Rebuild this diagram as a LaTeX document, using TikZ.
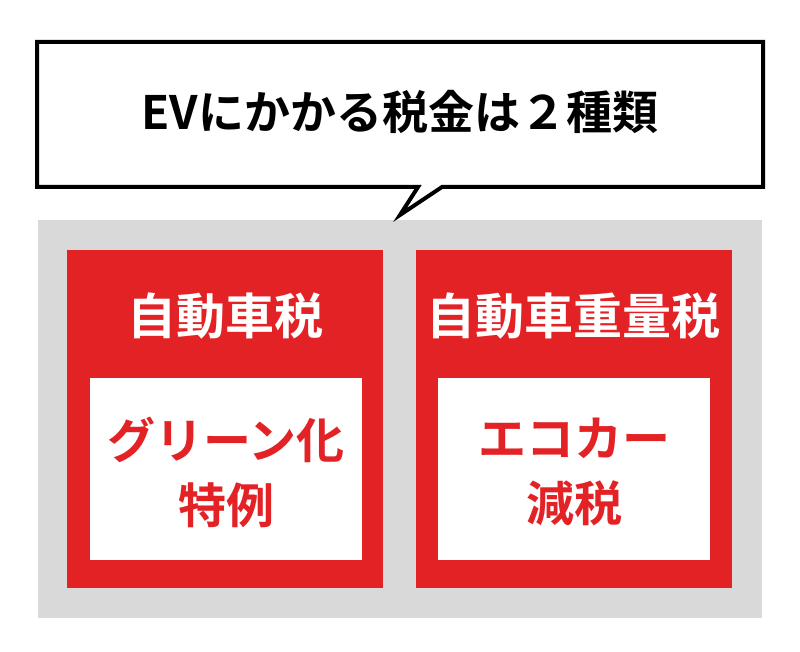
\documentclass[tikz,border=0pt]{standalone}
\usepackage{fontspec}
\setmainfont{Noto Sans CJK JP}
\newfontfamily\jpb{Noto Sans CJK JP Bold}
\definecolor{myred}{HTML}{E32226}
\definecolor{mygray}{HTML}{D9D9D9}
\begin{document}
\begin{tikzpicture}[x=1pt,y=-1pt,
  redbox/.style={fill=myred,draw=none},
  whitebox/.style={fill=white,draw=none},
  headtxt/.style={text=white,font=\jpb\fontsize{49}{55}\selectfont},
  bodytxt/.style={text=myred,font=\jpb\fontsize{48}{65}\selectfont,align=center}]
\useasboundingbox (0,0) rectangle (800,652);
\fill[mygray] (38,220) rectangle (762,618);
\draw[line width=4,fill=white,line join=miter]
  (37,42) -- (763,42) -- (763,187) -- (442,187) -- (400,215) -- (418,187) -- (37,187) -- cycle;
\node[font=\jpb\fontsize{46}{50}\selectfont] (title) at (400,112) {EVにかかる税金は２種類};
\fill[redbox] (67,250) rectangle (383,588);
\fill[redbox] (416,250) rectangle (732,588);
\fill[whitebox] (90,378) rectangle (362,560);
\fill[whitebox] (438,378) rectangle (710,560);
\node[headtxt] (h1) at (225,316) {自動車税};
\node[headtxt] (h2) at (573,316) {自動車重量税};
\node[bodytxt] (b1) at (226,472) {グリーン化\\特例};
\node[bodytxt] (b2) at (574,472) {エコカー\\減税};
\end{tikzpicture}
\end{document}
